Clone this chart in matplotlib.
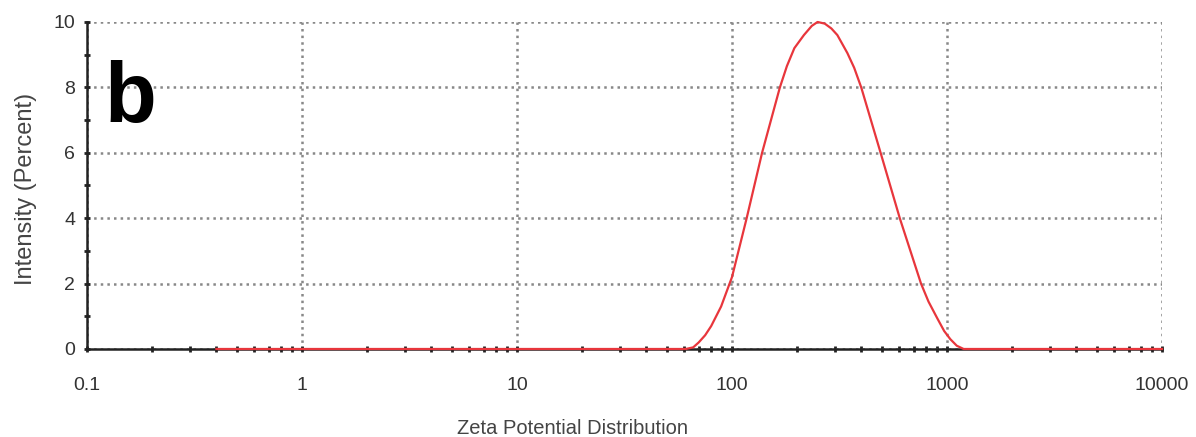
import numpy as np
import matplotlib.pyplot as plt
from matplotlib.ticker import FixedLocator, NullFormatter

plt.rcParams['font.family'] = ['Liberation Sans', 'DejaVu Sans']

# size bins (log axis) and intensity in percent
size = [0.4, 61, 66, 70, 75, 80, 89, 100, 117, 138, 167, 180, 195, 216, 235,
        250, 270, 290, 309, 344, 370, 399, 491, 603, 757, 820, 899, 970,
        1036, 1110, 1195, 10000]
intensity = [0.0, 0.0, 0.05, 0.2, 0.42, 0.7, 1.3, 2.2, 4.0, 6.0, 8.0, 8.65,
             9.2, 9.6, 9.88, 10.0, 9.95, 9.8, 9.6, 9.05, 8.6, 8.0, 6.0, 4.0,
             2.0, 1.45, 0.95, 0.55, 0.3, 0.1, 0.0, 0.0]

xticks = [0.1, 1, 10, 100, 1000, 10000]
xticklabels = ['0.1', '1', '10', '100', '1000', '10000']
yticks = [0, 2, 4, 6, 8, 10]

fig = plt.figure(figsize=(11.96, 4.37), dpi=100)
ax = fig.add_axes([0.0727, 0.2014, 0.8989, 0.7483])

ax.set_xscale('log')
ax.set_xlim(0.1, 10000)
ax.set_ylim(0, 10)

ax.plot(size, intensity, color='#e8363c', lw=1.6, zorder=3, clip_on=False)

ax.set_xticks(xticks)
ax.set_xticklabels(xticklabels)
ax.set_yticks(yticks)
minx = [m * d for d in [0.1, 1, 10, 100, 1000] for m in range(2, 10)]
ax.xaxis.set_minor_locator(FixedLocator(minx))
ax.xaxis.set_minor_formatter(NullFormatter())
ax.yaxis.set_minor_locator(FixedLocator([1, 3, 5, 7, 9]))

ax.tick_params(axis='both', which='major', length=5, width=2, direction='inout',
               color='#222222', labelsize=14, labelcolor='#333333')
ax.tick_params(axis='both', which='minor', length=4, width=2, direction='inout',
               color='#222222')
ax.tick_params(axis='x', which='major', pad=18)
ax.tick_params(axis='y', which='major', pad=6)

ax.grid(True, which='major', linestyle=':', color='#888888', lw=1.8)
for s in ['top', 'right']:
    ax.spines[s].set_visible(False)
for s in ['left', 'bottom']:
    ax.spines[s].set_color('#222222')
    ax.spines[s].set_linewidth(1.8)

ax.set_xlabel('Zeta Potential Distribution', fontsize=14.5, color='#444444', va='center')
ax.xaxis.set_label_coords(0.452, -0.242)
ax.set_ylabel('Intensity (Percent)', fontsize=17, color='#444444')
ax.yaxis.set_label_coords(-0.046, 0.49)

ax.text(0.016, 0.76, 'b', transform=ax.transAxes, fontsize=61, fontweight='bold',
        va='center', ha='left', color='black')

fig.savefig('out.png', dpi=100)
